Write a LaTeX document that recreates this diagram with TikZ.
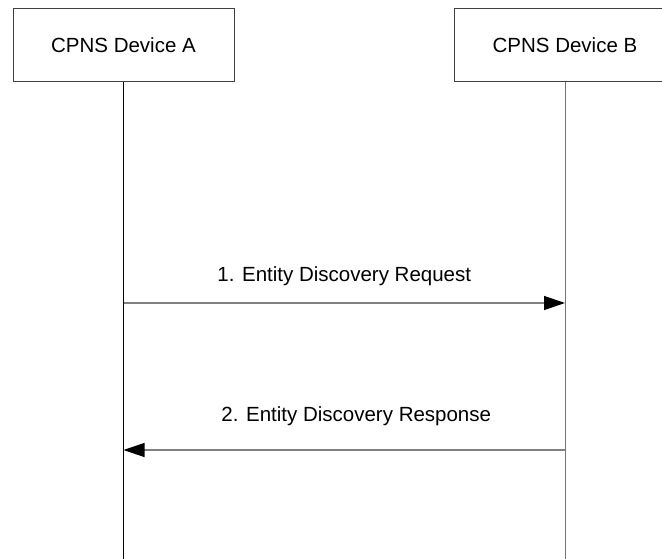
\documentclass[tikz,border=0pt]{standalone}
\usepackage{fontspec}
\setmainfont{Liberation Sans}
\usetikzlibrary{arrows.meta}

\begin{document}
\begin{tikzpicture}[x=1pt, y=-1pt,
    device/.style={rectangle, draw=black!75, line width=1pt, minimum width=221pt,
      minimum height=73pt, inner sep=0pt, font=\fontsize{20.5}{24}\selectfont},
    life/.style={line width=1pt},
    msg/.style={draw=black!50, line width=1.3pt,
      -{Triangle[length=21pt, width=14pt, color=black]}},
    msglabel/.style={font=\fontsize{20.5}{24}\selectfont, anchor=base}]
    \useasboundingbox (0,0) rectangle (662,559);
    \clip (0,0) rectangle (662,559);

    \node[device] (A) at (123.5, 45.5) {CPNS Device A};
    \node[device] (B) at (565, 45.5) {CPNS Device B};

    % lifelines
    \coordinate (Aend) at (123.5, 559);
    \coordinate (Bend) at (565, 559);
    \draw[life, draw=black] (A) -- (Aend);
    \draw[life, draw=black!55] (B) -- (Bend);

    % messages
    \coordinate (A1) at (123.5, 303);
    \coordinate (B1) at (565, 303);
    \coordinate (A2) at (123.5, 450);
    \coordinate (B2) at (565, 450);
    \draw[msg] (A1) -- node[msglabel, yshift=22pt] {1. Entity Discovery Request} (B1);
    \draw[msg] (B2) -- node[msglabel, xshift=12pt, yshift=29pt] {2. Entity Discovery Response} (A2);
\end{tikzpicture}
\end{document}
